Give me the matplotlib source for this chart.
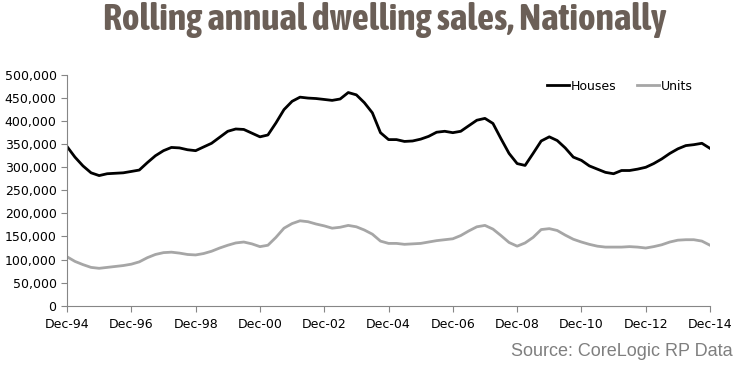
import matplotlib
matplotlib.use("Agg")
import matplotlib.pyplot as plt
from matplotlib import font_manager
import pandas as pd

# quarterly rolling annual sales, Dec-94 .. Dec-14 (thousands)
houses_k = [345, 322, 303, 288, 282, 286, 287, 288, 291, 294,
            310, 325, 336, 343, 342, 338, 336, 344, 352, 365,
            378, 383, 382, 374, 366, 370, 396, 425, 443, 452,
            450, 449, 447, 445, 448, 462, 457, 440, 418, 375,
            360, 360, 356, 357, 361, 367, 376, 378, 375, 378,
            390, 402, 406, 395, 362, 330, 308, 304, 330, 357,
            366, 358, 342, 322, 315, 303, 296, 289, 286, 293,
            293, 296, 300, 308, 318, 330, 340, 347, 349, 352,
            341]
units_k = [106, 96, 89, 83, 81, 83, 85, 87, 90, 95,
           104, 111, 115, 116, 114, 111, 110, 113, 118, 125,
           131, 136, 138, 134, 128, 131, 148, 168, 178, 184,
           182, 177, 173, 168, 170, 174, 171, 164, 155, 140,
           135, 135, 133, 134, 135, 138, 141, 143, 145, 152,
           162, 171, 174, 166, 152, 137, 129, 136, 148, 165,
           167, 163, 153, 144, 138, 133, 129, 127, 127, 127,
           128, 127, 125, 128, 132, 138, 142, 143, 143, 140,
           131]
tick_labels = ["Dec-94", "Dec-96", "Dec-98", "Dec-00", "Dec-02", "Dec-04",
               "Dec-06", "Dec-08", "Dec-10", "Dec-12", "Dec-14"]

dates = pd.date_range("1994-12-31", periods=len(houses_k), freq="QE")
houses = [v * 1000 for v in houses_k]
units = [v * 1000 for v in units_k]

fig = plt.figure(figsize=(7.35, 3.65), dpi=100)
ax = fig.add_axes([0.0912, 0.1625, 0.8748, 0.632])

ax.plot(dates, houses, color="black", lw=2.0, label="Houses")
ax.plot(dates, units, color="#a6a6a6", lw=2.0, label="Units")

tick_dates = pd.date_range("1994-12-31", "2014-12-31", freq="24ME")
ax.set_xticks(tick_dates)
ax.set_xticklabels(tick_labels)
ax.set_xlim(dates[0], dates[-1])
ax.set_ylim(0, 500000)
ax.set_yticks(range(0, 500001, 50000))
ax.set_yticklabels([f"{v:,}" for v in range(0, 500001, 50000)])

for s in ["top", "right"]:
    ax.spines[s].set_visible(False)
for s in ["left", "bottom"]:
    ax.spines[s].set_color("#868686")
    ax.spines[s].set_linewidth(0.8)
ax.tick_params(axis="both", colors="#868686", labelcolor="black",
               labelsize=9, length=4, width=0.8, direction="out")
ax.tick_params(axis="x", pad=5)

fig.legend(loc="center", bbox_to_anchor=(0.8435, 0.764), ncol=2,
           frameon=False, fontsize=9, handlelength=1.8, handletextpad=0.15,
           columnspacing=1.6)

# title font: a narrow bold face if one is installed, sized to the reference width
narrow = None
for f in font_manager.fontManager.ttflist:
    if ("Narrow" in f.name or "Condensed" in f.name) and f.weight in ("bold", 700):
        narrow = f.name
        break
title_family = [narrow] if narrow else ["Liberation Sans", "DejaVu Sans"]
title = fig.text(0.523, 0.945, "Rolling annual dwelling sales, Nationally",
                 ha="center", va="center", fontsize=25, fontweight="bold",
                 color="#6b5f57", family=title_family)
renderer = fig.canvas.get_renderer()
w = title.get_window_extent(renderer).width
title.set_fontsize(min(27, 25 * 585 / w))

fig.text(0.997, 0.036, "Source: CoreLogic RP Data", ha="right", va="center",
         fontsize=13, color="#7f7f7f", family=["Liberation Sans", "DejaVu Sans"])

fig.savefig("out.png", dpi=100)
